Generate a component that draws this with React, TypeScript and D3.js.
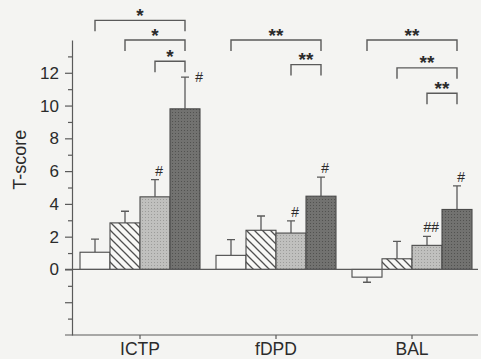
import { useEffect, useRef } from "react";
import * as d3 from "d3";

// groups and bar series
const groups = ["ICTP", "fDPD", "BAL"];
const seriesKeys = ["open", "hatched", "dotted", "dark"];

// mean T-scores, one array per series (ICTP, fDPD, BAL)
const openValues = [1.05, 0.86, -0.47];
const hatchedValues = [2.84, 2.39, 0.65];
const dottedValues = [4.43, 2.22, 1.47];
const darkValues = [9.8, 4.47, 3.66];

// error bar sizes
const openErrors = [0.8, 0.96, 0.31];
const hatchedErrors = [0.71, 0.87, 1.06];
const dottedErrors = [1.05, 0.74, 0.55];
const darkErrors = [1.94, 1.16, 1.44];

const yMajorTicks = [-2, 0, 2, 4, 6, 8, 10, 12];
const yMinorTicks = [-3, -1, 1, 3, 5, 7, 9, 11, 13];

// significance brackets: between bar "from" and bar "to" inside a group, at a T-score level
const brackets = [
  { group: "ICTP", from: 0, to: 3, level: 15.2, label: "*" },
  { group: "ICTP", from: 1, to: 3, level: 14.0, label: "*" },
  { group: "ICTP", from: 2, to: 3, level: 12.7, label: "*" },
  { group: "fDPD", from: 0, to: 3, level: 14.0, label: "**" },
  { group: "fDPD", from: 2, to: 3, level: 12.5, label: "**" },
  { group: "BAL", from: 0, to: 3, level: 14.0, label: "**" },
  { group: "BAL", from: 1, to: 3, level: 12.3, label: "**" },
  { group: "BAL", from: 2, to: 3, level: 10.75, label: "**" },
];

// "#" marks above error bars
const hashMarks = [
  { group: "ICTP", series: 2, text: "#", side: false },
  { group: "ICTP", series: 3, text: "#", side: true },
  { group: "fDPD", series: 2, text: "#", side: false },
  { group: "fDPD", series: 3, text: "#", side: false },
  { group: "BAL", series: 2, text: "##", side: false },
  { group: "BAL", series: 3, text: "#", side: false },
];

const WIDTH = 481;
const HEIGHT = 359;
const FONT = "'Liberation Sans', Arial, Helvetica, sans-serif";
const INK = "#2b2b2b";
const LINE = "#5a5a5a";

const App = () => {
  const svgRef = useRef<SVGSVGElement | null>(null);

  useEffect(() => {
    const values = [openValues, hatchedValues, dottedValues, darkValues];
    const errors = [openErrors, hatchedErrors, dottedErrors, darkErrors];
    const fills = ["#f8f8f6", "url(#hatch)", "url(#dots)", "url(#darkdots)"];

    const svg = d3.select(svgRef.current);
    svg.selectAll("*").remove();

    const x0 = d3
      .scaleBand<string>()
      .domain(groups)
      .range([72, 480])
      .paddingInner(2 / 17)
      .paddingOuter(1 / 17);
    const x1 = d3.scaleBand<string>().domain(seriesKeys).range([0, x0.bandwidth()]);
    const y = d3.scaleLinear().domain([-4, 14]).range([335, 40]);

    const barCenter = (g: string, s: number) =>
      (x0(g) as number) + (x1(seriesKeys[s]) as number) + x1.bandwidth() / 2;

    svg.append("rect").attr("width", WIDTH).attr("height", HEIGHT).attr("fill", "#f4f4f2");

    const defs = svg.append("defs");
    const hatch = defs
      .append("pattern")
      .attr("id", "hatch")
      .attr("patternUnits", "userSpaceOnUse")
      .attr("width", 8)
      .attr("height", 8);
    hatch.append("rect").attr("width", 8).attr("height", 8).attr("fill", "#f8f8f6");
    hatch
      .append("path")
      .attr("d", "M0,0L8,8M-2,6L2,10M6,-2L10,2")
      .attr("stroke", "#505050")
      .attr("stroke-width", 1.3);

    const dotPattern = (id: string, bg: string, dot: string) => {
      const p = defs
        .append("pattern")
        .attr("id", id)
        .attr("patternUnits", "userSpaceOnUse")
        .attr("width", 3)
        .attr("height", 3);
      p.append("rect").attr("width", 3).attr("height", 3).attr("fill", bg);
      p.append("rect").attr("x", 1).attr("y", 1).attr("width", 1).attr("height", 1).attr("fill", dot);
    };
    dotPattern("dots", "#c0c0be", "#9c9c9a");
    dotPattern("darkdots", "#727270", "#525250");

    // y axis
    const yAxis = svg.append("g").attr("transform", "translate(72,0)");
    yAxis.call(
      d3
        .axisLeft(y)
        .tickValues(yMajorTicks)
        .tickSize(7)
        .tickSizeOuter(0)
        .tickPadding(6)
        .tickFormat((d) => (+d >= 0 ? String(d) : ""))
    );
    yAxis.append("g").call(d3.axisLeft(y).tickValues(yMinorTicks).tickSize(4).tickSizeOuter(0).tickFormat(() => ""));
    yAxis.selectAll("g g path.domain").remove();
    yAxis.selectAll("path, line").attr("stroke", LINE).attr("stroke-width", 1.2);
    yAxis
      .selectAll("text")
      .attr("font-family", FONT)
      .attr("font-size", 17)
      .attr("fill", INK);

    svg
      .append("text")
      .attr("transform", `translate(26,${y(6.7)}) rotate(-90)`)
      .attr("text-anchor", "middle")
      .attr("font-family", FONT)
      .attr("font-size", 18)
      .attr("fill", INK)
      .text("T-score");

    // x axis at the bottom of the y range
    const xAxis = svg.append("g").attr("transform", `translate(0,${y(-4)})`);
    xAxis.call(d3.axisBottom(x0).tickSize(4).tickSizeOuter(0).tickPadding(4));
    xAxis.select("path.domain").remove();
    xAxis
      .append("line")
      .attr("x1", 65)
      .attr("x2", 478)
      .attr("stroke", LINE);
    xAxis.selectAll("line").attr("stroke", LINE).attr("stroke-width", 1.2);
    xAxis
      .selectAll("text")
      .attr("font-family", FONT)
      .attr("font-size", 17.5)
      .attr("fill", INK);

    // bars
    const barData = groups.flatMap((g, gi) =>
      seriesKeys.map((s, si) => ({ g, si, value: values[si][gi], err: errors[si][gi] }))
    );

    const bars = svg.append("g");
    bars
      .selectAll(".err")
      .data(barData)
      .enter()
      .append("path")
      .classed("err", true)
      .attr("d", (d) => {
        const cx = barCenter(d.g, d.si);
        const end = d.value >= 0 ? d.value + d.err : d.value - d.err;
        return `M${cx},${y(d.value)}V${y(end)}M${cx - 4},${y(end)}H${cx + 4}`;
      })
      .attr("fill", "none")
      .attr("stroke", LINE)
      .attr("stroke-width", 1.3);

    bars
      .selectAll(".bar")
      .data(barData)
      .enter()
      .append("rect")
      .classed("bar", true)
      .attr("x", (d) => (x0(d.g) as number) + (x1(seriesKeys[d.si]) as number))
      .attr("width", x1.bandwidth())
      .attr("y", (d) => y(Math.max(0, d.value)))
      .attr("height", (d) => Math.abs(y(d.value) - y(0)))
      .attr("fill", (d) => fills[d.si])
      .attr("stroke", "#4a4a4a")
      .attr("stroke-width", 1.1);

    // zero line
    svg
      .append("line")
      .attr("x1", 65)
      .attr("x2", 478)
      .attr("y1", y(0))
      .attr("y2", y(0))
      .attr("stroke", LINE)
      .attr("stroke-width", 1.2);

    // # marks
    svg
      .selectAll(".hash")
      .data(hashMarks)
      .enter()
      .append("text")
      .classed("hash", true)
      .attr("x", (d) => barCenter(d.group, d.series) + (d.side ? 10 : 4))
      .attr("y", (d) => {
        const gi = groups.indexOf(d.group);
        const top = y(values[d.series][gi] + errors[d.series][gi]);
        return d.side ? top + 5 : top - 4;
      })
      .attr("text-anchor", (d) => (d.side ? "start" : "middle"))
      .attr("font-family", FONT)
      .attr("font-style", "italic")
      .attr("font-size", 14)
      .attr("fill", INK)
      .text((d) => d.text);

    // significance brackets
    const br = svg.selectAll(".bracket").data(brackets).enter().append("g").classed("bracket", true);
    br.append("path")
      .attr("d", (d) => {
        const xa = barCenter(d.group, d.from);
        const xb = barCenter(d.group, d.to);
        const yy = y(d.level);
        return `M${xa},${yy + 11}V${yy}H${xb}V${yy + 11}`;
      })
      .attr("fill", "none")
      .attr("stroke", LINE)
      .attr("stroke-width", 1.4);
    br.append("text")
      .attr("x", (d) => (barCenter(d.group, d.from) + barCenter(d.group, d.to)) / 2)
      .attr("y", (d) => y(d.level) + 1.5)
      .attr("text-anchor", "middle")
      .attr("font-family", FONT)
      .attr("font-weight", "bold")
      .attr("font-size", 19)
      .attr("fill", INK)
      .text((d) => d.label);
  }, []);

  return (
    <svg
      ref={svgRef}
      width={WIDTH}
      height={HEIGHT}
      style={{ position: "absolute", left: 0, top: 0, display: "block" }}
    />
  );
};

export default App;
